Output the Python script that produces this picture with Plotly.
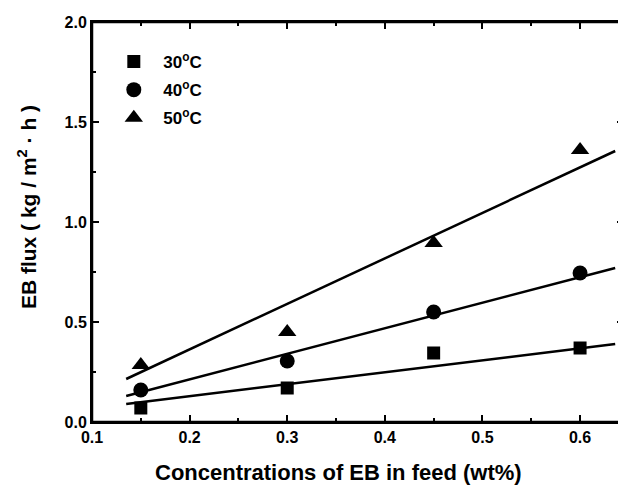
import plotly.graph_objects as go

# Data
conc = [0.15, 0.30, 0.45, 0.60]
flux_30 = [0.07, 0.17, 0.345, 0.37]
flux_40 = [0.16, 0.305, 0.55, 0.745]
flux_50 = [0.285, 0.45, 0.895, 1.36]

# Fitted lines (endpoints)
fit_x = [0.135, 0.636]
fit_30 = [0.09, 0.39]
fit_40 = [0.13, 0.77]
fit_50 = [0.215, 1.355]

x_ticks = [0.1, 0.2, 0.3, 0.4, 0.5, 0.6]
x_tick_labels = ["0.1", "0.2", "0.3", "0.4", "0.5", "0.6"]
y_ticks = [0.0, 0.5, 1.0, 1.5, 2.0]
y_tick_labels = ["0.0", "0.5", "1.0", "1.5", "2.0"]
x_range = [0.1, 0.645]
y_range = [0, 2.0]

x_title = "Concentrations of EB in feed (wt%)"
y_title = "EB flux ( kg / m<sup>2</sup> · h )"
labels = ["&nbsp;&nbsp;30<sup>o</sup>C", "&nbsp;&nbsp;40<sup>o</sup>C", "&nbsp;&nbsp;50<sup>o</sup>C"]
symbols = ["square", "circle", "triangle-up"]
sizes = [13, 15, 16]

fig = go.Figure()
for fy in [fit_30, fit_40, fit_50]:
    fig.add_trace(go.Scatter(x=fit_x, y=fy, mode="lines",
                             line=dict(color="black", width=2.5),
                             showlegend=False, hoverinfo="skip"))
for i, (ys, lab, sym, sz) in enumerate(zip([flux_30, flux_40, flux_50], labels, symbols, sizes)):
    fig.add_trace(go.Scatter(x=conc, y=ys, mode="markers", name=lab,
                             legendgroup=f"g{i}",
                             marker=dict(symbol=sym, size=sz, color="black")))

font = dict(family="Liberation Sans, Arial", color="black", weight="bold")
axis_common = dict(showline=True, linecolor="black", linewidth=2, mirror="allticks",
                   ticks="inside", ticklen=7, tickwidth=2, tickcolor="black",
                   showgrid=False, zeroline=False,
                   tickfont=dict(size=16, **font))
xminor = dict(ticks="inside", ticklen=4, tickwidth=2, dtick=0.05, tick0=0.1, tickcolor="black")
yminor = dict(ticks="inside", ticklen=4, tickwidth=2, dtick=0.25, tick0=0, tickcolor="black")

fig.update_layout(
    xaxis=dict(range=x_range, tickmode="array", tickvals=x_ticks,
               ticktext=[f"<b>{t}</b>" for t in x_tick_labels], minor=xminor,
               **axis_common),
    yaxis=dict(range=y_range, tickmode="array", tickvals=y_ticks,
               ticktext=[f"<b>{t}</b>" for t in y_tick_labels], minor=yminor,
               **axis_common),
)
# axis titles placed as annotations so they sit where the reference has them
fig.add_annotation(text=f"<b>{x_title}</b>", xref="paper", yref="paper",
                   x=0.4625, y=-0.125, xanchor="center", yanchor="middle",
                   showarrow=False, font=dict(size=22, **font))
fig.add_annotation(text=f"<b>{y_title}</b>", xref="paper", yref="paper",
                   x=-0.122, y=0.5375, xanchor="center", yanchor="middle",
                   textangle=-90, showarrow=False, font=dict(size=21, **font))
# explicit plot-area frame
fig.add_shape(type="rect", xref="paper", yref="paper", x0=0, x1=1, y0=0, y1=1,
              line=dict(color="black", width=2.5), fillcolor="rgba(0,0,0,0)",
              layer="above")
# page body adds an 8px offset; compensate so the plot frame lands where the reference has it
fig.update_layout(width=618, height=478,
                  margin=dict(l=84, r=0, t=14, b=64),
                  plot_bgcolor="white", paper_bgcolor="white",
                  legend=dict(x=0.041, y=0.945, xanchor="left", yanchor="top",
                              bgcolor="rgba(0,0,0,0)", font=dict(size=17, **font),
                              itemwidth=30, tracegroupgap=3))
fig.write_html("out.html", config={"displayModeBar": False})
